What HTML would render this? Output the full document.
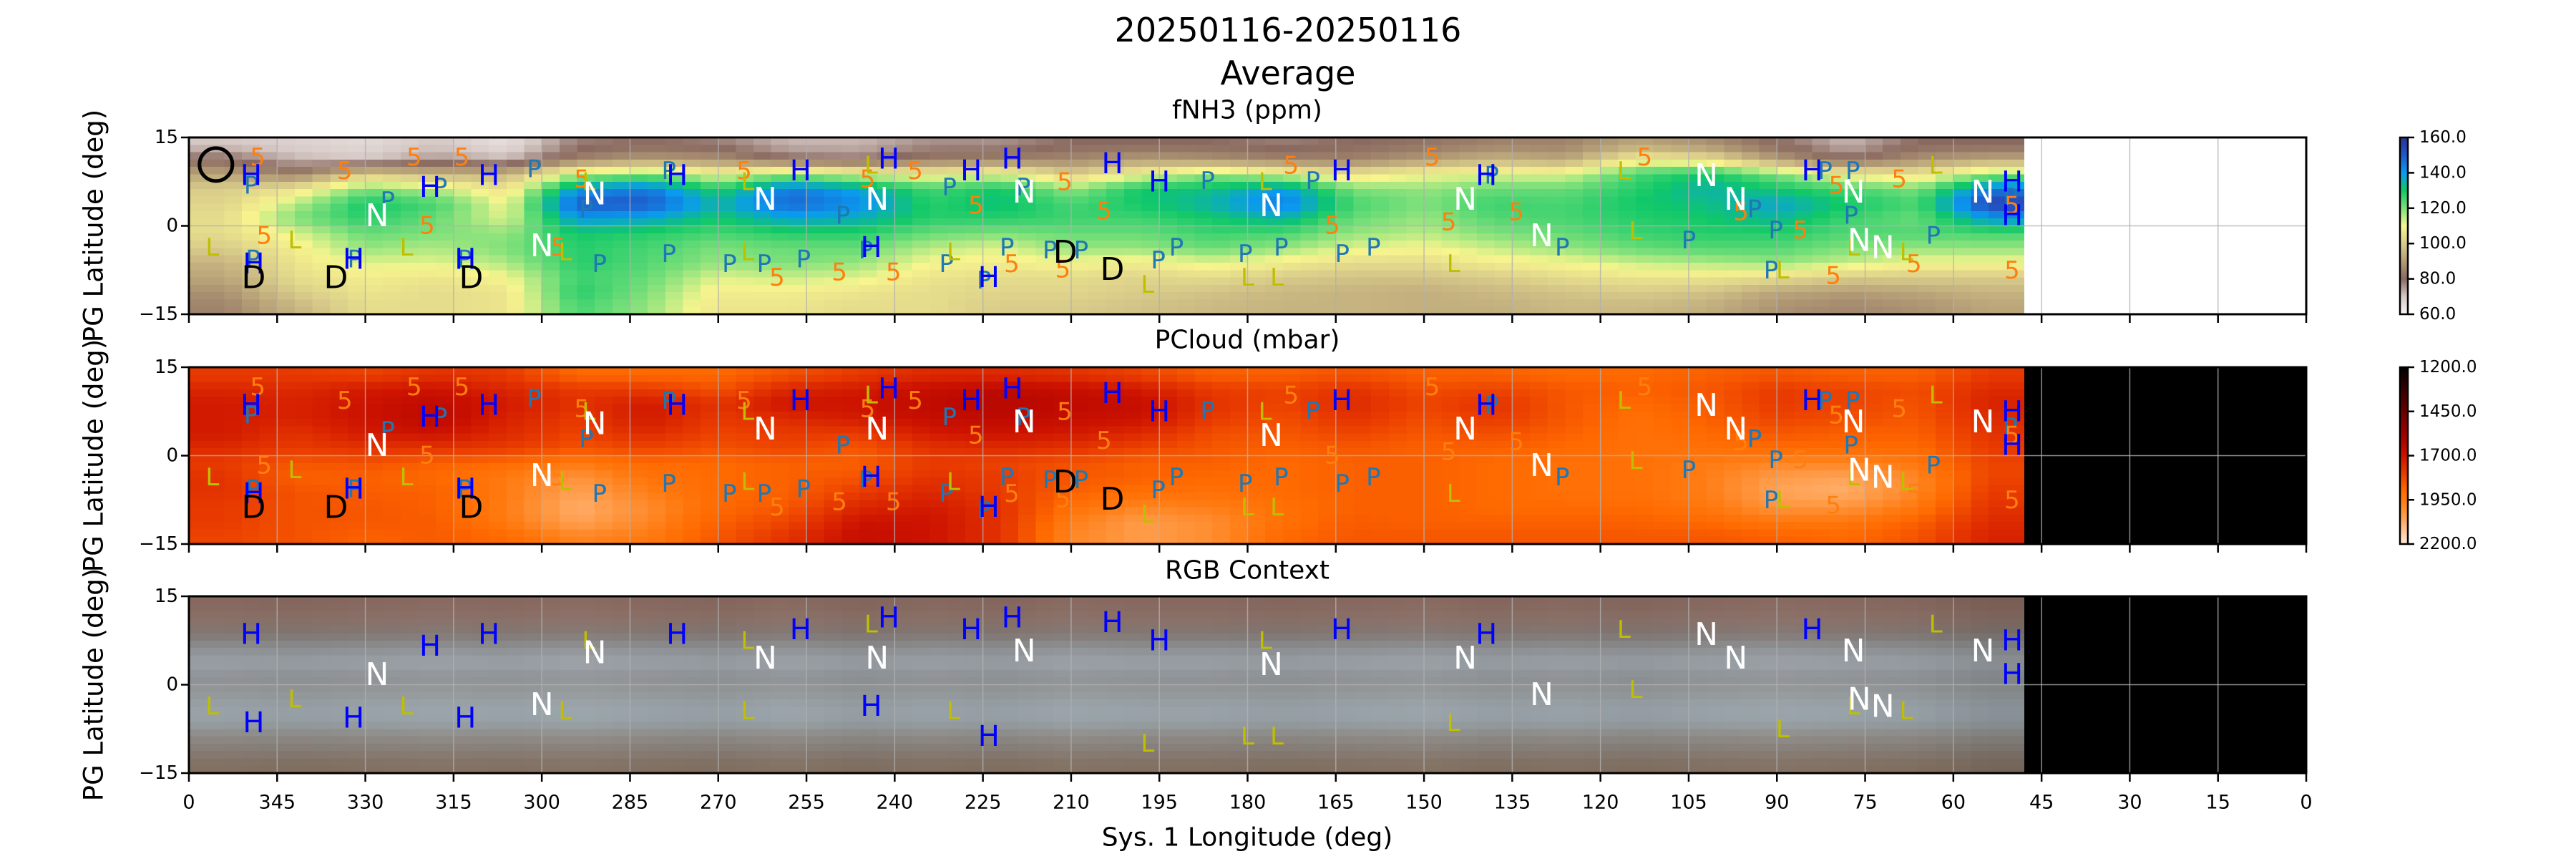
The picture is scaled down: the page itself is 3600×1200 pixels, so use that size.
<!DOCTYPE html>
<html><head><meta charset="utf-8"><style>
html,body{margin:0;padding:0;background:#fff;}
svg{display:block;font-family:"DejaVu Sans","Liberation Sans",sans-serif;}
</style></head><body>
<svg id="fig" width="3600" height="1200" viewBox="0 0 3600 1200" xmlns="http://www.w3.org/2000/svg">
<rect width="3600" height="1200" fill="#fff"/>
<defs>
<linearGradient id="gN" x1="0" y1="1" x2="0" y2="0">
<stop offset="0" stop-color="#f7f4f4"/><stop offset="0.1" stop-color="#d5c8c5"/><stop offset="0.2" stop-color="#8a6a60"/><stop offset="0.3" stop-color="#b39c76"/><stop offset="0.4" stop-color="#d9cc8a"/><stop offset="0.5" stop-color="#f8f58e"/><stop offset="0.6" stop-color="#7de07a"/><stop offset="0.7" stop-color="#10c868"/><stop offset="0.8" stop-color="#0a9af0"/><stop offset="0.9" stop-color="#2058c8"/><stop offset="1" stop-color="#2e3192"/>
</linearGradient>
<linearGradient id="gP" x1="0" y1="0" x2="0" y2="1">
<stop offset="0" stop-color="#000"/><stop offset="0.25" stop-color="#6a0000"/><stop offset="0.4" stop-color="#a80000"/><stop offset="0.5" stop-color="#cc1200"/><stop offset="0.6" stop-color="#e83a00"/><stop offset="0.7" stop-color="#ff6a00"/><stop offset="0.75" stop-color="#ff7a10"/><stop offset="0.85" stop-color="#ffa050"/><stop offset="1" stop-color="#ffeadc"/>
</linearGradient>
</defs>
<text x="1800" y="58" font-size="46" text-anchor="middle">20250116-20250116</text>
<text x="1800" y="118" font-size="46" text-anchor="middle">Average</text>
<g id="layer"></g>
</svg>
<script>
// ---------- data ----------
const lonCenters = [354,342,330,318,306,294,282,270,258,246,234,222,210,198,186,174,162,150,138,126,114,102,90,78,66,54];
const latCenters = [13.75,11.25,8.75,6.25,3.75,1.25,-1.25,-3.75,-6.25,-8.75,-11.25,-13.75];
const fnh3Values = [
[70,80,92,100,102,104,104,100,95,92,88,85],
[68,72,85,105,115,120,112,108,106,104,100,95],
[66,70,100,120,130,128,122,118,112,108,106,104],
[70,75,95,115,125,122,120,116,112,106,104,104],
[65,72,95,105,110,112,118,120,116,110,106,106],
[78,85,115,140,150,140,130,128,128,126,128,125],
[80,90,120,145,150,138,128,125,124,122,120,118],
[78,88,110,128,135,130,125,120,118,112,108,106],
[72,80,118,145,148,138,128,122,120,114,108,106],
[72,78,112,138,142,136,128,122,118,112,106,104],
[76,84,108,125,128,128,122,115,110,106,104,104],
[76,85,112,130,132,128,120,112,108,104,102,100],
[80,86,100,118,125,126,122,118,110,104,102,100],
[80,90,110,130,130,126,122,118,108,102,100,98],
[80,88,118,132,135,130,126,122,112,104,98,96],
[78,85,112,140,145,135,125,118,108,100,96,95],
[80,85,105,120,125,122,118,112,104,98,95,95],
[82,90,110,118,120,118,115,110,104,98,94,94],
[85,95,112,122,126,124,120,114,108,100,96,94],
[85,92,112,122,125,125,122,118,110,104,98,96],
[92,108,125,128,130,128,126,122,114,106,100,96],
[88,105,130,135,132,130,128,124,116,106,98,94],
[80,90,120,130,138,134,128,124,118,104,92,88],
[72,80,108,125,130,126,124,120,114,100,90,86],
[80,88,105,120,125,122,124,118,110,100,92,88],
[80,92,118,145,155,140,125,118,110,100,95,92]];
const pcloudValues = [
[1800,1750,1720,1720,1720,1760,1800,1780,1780,1800,1800,1820],
[1800,1760,1740,1740,1780,1800,1860,1880,1850,1850,1850,1850],
[1820,1720,1700,1700,1720,1780,1850,1880,1870,1860,1860,1880],
[1780,1700,1660,1650,1700,1780,1880,1900,1880,1880,1870,1870],
[1800,1750,1720,1740,1760,1800,1900,1950,1950,1960,1950,1900],
[1900,1800,1780,1800,1820,1850,1950,2020,2060,2080,2060,1980],
[1900,1800,1720,1720,1760,1820,1900,1930,1960,2000,1980,1950],
[1900,1850,1780,1800,1820,1850,1900,1900,1900,1900,1880,1860],
[1850,1750,1700,1760,1800,1820,1880,1880,1880,1860,1820,1780],
[1800,1720,1700,1720,1800,1860,1880,1850,1800,1750,1700,1680],
[1760,1680,1660,1680,1720,1780,1800,1780,1750,1720,1700,1700],
[1760,1660,1640,1660,1700,1760,1820,1800,1800,1780,1780,1780],
[1780,1680,1660,1680,1720,1780,1850,1860,1880,1920,1960,1980],
[1820,1720,1680,1700,1760,1820,1880,1880,1920,1980,2040,2040],
[1880,1800,1780,1800,1840,1860,1880,1900,1920,1960,2000,2000],
[1880,1820,1820,1840,1860,1880,1900,1900,1900,1920,1920,1900],
[1850,1780,1760,1780,1820,1860,1880,1880,1880,1880,1870,1860],
[1880,1840,1820,1840,1860,1880,1880,1880,1880,1880,1880,1860],
[1880,1820,1780,1800,1840,1880,1900,1900,1900,1900,1880,1860],
[1900,1860,1860,1860,1880,1900,1920,1920,1920,1900,1880,1860],
[1900,1880,1900,1920,1920,1920,1920,1920,1920,1900,1880,1860],
[1880,1860,1870,1880,1900,1920,1950,1960,1960,1940,1900,1860],
[1860,1800,1800,1820,1860,1900,1980,2040,2060,2020,1940,1880],
[1880,1820,1820,1840,1880,1900,1980,2060,2080,2020,1940,1900],
[1880,1840,1850,1860,1880,1900,1940,1980,1980,1940,1880,1850],
[1800,1760,1740,1760,1780,1800,1820,1820,1800,1780,1760,1740]];
const rgbRowColors = [[134,104,95],[138,112,103],[128,118,114],[141,143,146],[154,160,166],[142,146,150],[147,151,152],[152,162,168],[150,160,165],[141,138,134],[133,123,116],[130,112,98]];
const rgbColShade = [1.0,0.98,1.0,1.02,1.0,1.03,1.0,0.98,1.02,0.97,1.0,0.98,1.02,1.0,1.0,0.98,1.0,1.02,0.98,1.0,0.97,1.0,1.02,1.0,0.98,0.9];
const xTickLabels = [0,345,330,315,300,285,270,255,240,225,210,195,180,165,150,135,120,105,90,75,60,45,30,15,0];
const yTickValues = [15,0,-15];
const fnh3CbTicks = [60,80,100,120,140,160];
const pcloudCbTicks = [1200,1450,1700,1950,2200];
const hLon=[349.4,319,309,277,256,241,227,220,203,195,164,139.4,84,50,50,349,332,313,244,224];
const hLat=[8.5,6.5,8.5,8.5,9.3,11.3,9.3,11.3,10.5,7.4,9.3,8.5,9.3,7.4,1.7,-6.5,-5.7,-5.7,-3.7,-8.8];
const nLon=[328,300,291,262,243,218,176,143,130,102,97,77,76,72,55];
const nLat=[1.7,-3.4,5.4,4.5,4.5,5.7,3.4,4.5,-1.7,8.5,4.5,5.7,-2.5,-3.7,5.7];
const lLon=[356,342,323,296,292,265,265,244,230,197,180,175,177,145,116,114,89,77,68,63];
const lLat=[-3.7,-2.5,-3.7,-4.5,7.4,7.4,-4.5,10.2,-4.5,-10,-8.8,-8.8,7.4,-6.5,9.3,-0.9,-7.6,-3.7,-4.5,10.2];
const dLon=[349,335,312,211,203];
const dLat=[-8.8,-8.8,-8.8,-4.5,-7.4];
const pLon=[349.4,349.1,331.8,326.2,317.3,313.1,301.3,292.4,290.2,278.4,278.4,268.1,262.2,255.5,248.8,244.9,230.7,231.2,224.8,220.9,218.1,213.6,208.3,195.2,192.1,186.8,180.4,174.3,168.9,163.9,158.6,138.5,126.5,105,93.8,91,90.2,81.8,77.1,77.4,63.4,50.3];
const pLat=[6.8,-5.7,-5.7,4.2,6.5,-5.7,9.6,2.8,-6.5,9.3,-4.8,-6.5,-6.5,-5.7,1.7,-4.2,6.5,-6.5,-9.3,-3.7,6.5,-4.2,-4.2,-5.9,-3.7,7.6,-4.8,-3.7,7.6,-4.8,-3.7,8.5,-3.7,-2.5,2.8,-7.6,-0.8,9.3,9.3,1.7,-1.7,4.8];
const fLon=[348.3,333.5,347.2,321.7,313.6,319.5,293.2,297.2,265.6,244.6,236.5,260,249.4,240.2,226.2,220.1,211.1,204.4,211.4,172.6,165.6,148.6,145.8,134.3,112.5,96.1,86,80.4,69.2,66.7,50,50,79.9];
const fLat=[11.6,9.3,-1.7,11.6,11.6,0,7.9,-3.7,9.3,7.9,9.3,-8.8,-7.9,-7.9,3.4,-6.5,7.4,2.5,-7.4,10.2,0,11.6,0.6,2.3,11.6,2.3,-0.8,-8.5,7.9,-6.5,3.4,-7.6,6.8];

// ---------- layout ----------
const PX0=264, PX1=3223, PH=247, tops=[192,513,833];
const DATA_MIN_LON=48;
function xOf(lon){return PX0+(360-lon)/360*(PX1-PX0);}
function yOf(lat,top){return top+(15-lat)/30*PH;}
const NS="http://www.w3.org/2000/svg";
const layer=document.getElementById('layer');
function mk(tag,attrs,parent){const e=document.createElementNS(NS,tag);for(const k in attrs)e.setAttribute(k,attrs[k]);(parent||layer).appendChild(e);return e;}
function lerp(a,b,t){return a+(b-a)*t;}
function hex(c){return [parseInt(c.slice(1,3),16),parseInt(c.slice(3,5),16),parseInt(c.slice(5,7),16)];}
function cmap(stops,v){
  if(v<=stops[0][0])return hex(stops[0][1]);
  for(let i=1;i<stops.length;i++){if(v<=stops[i][0]){const t=(v-stops[i-1][0])/(stops[i][0]-stops[i-1][0]);const a=hex(stops[i-1][1]),b=hex(stops[i][1]);return [0,1,2].map(k=>Math.round(lerp(a[k],b[k],t)));}}
  return hex(stops[stops.length-1][1]);
}
const nStops=[[60,'#f7f4f4'],[70,'#d5c8c5'],[80,'#8a6a60'],[90,'#b39c76'],[100,'#d9cc8a'],[110,'#f8f58e'],[120,'#7de07a'],[130,'#10c868'],[140,'#0a9af0'],[150,'#2058c8'],[160,'#2e3192']];
function pColor(v){
  const s=[[1200,'#000000'],[1450,'#6a0000'],[1600,'#a80000'],[1700,'#cc1200'],[1800,'#e83a00'],[1900,'#ff6a00'],[1950,'#ff7a10'],[2050,'#ffa050'],[2200,'#ffeadc']];
  return cmap(s,v);
}
function sampleGrid(g,lon,lat){
  let c=(lonCenters[0]-lon)/12; c=Math.max(0,Math.min(lonCenters.length-1,c));
  let r=(latCenters[0]-lat)/2.5; r=Math.max(0,Math.min(latCenters.length-1,r));
  const c0=Math.floor(c),r0=Math.floor(r),c1=Math.min(c0+1,lonCenters.length-1),r1=Math.min(r0+1,latCenters.length-1);
  const tc=c-c0,tr=r-r0;
  if(Array.isArray(g[0][0])){
    return [0,1,2].map(k=>lerp(lerp(g[c0][r0][k],g[c1][r0][k],tc),lerp(g[c0][r1][k],g[c1][r1][k],tc),tr));
  }
  return lerp(lerp(g[c0][r0],g[c1][r0],tc),lerp(g[c0][r1],g[c1][r1],tc),tr);
}
const rgbGrid=lonCenters.map((_,ci)=>rgbRowColors.map(rc=>rc.map(v=>Math.min(255,v*rgbColShade[ci]))));

function drawPanel(pi,name,colorFn,grid,bg){
  const top=tops[pi];
  const g=mk('g',{});
  
  
  const bgR=mk('rect',{x:PX0,y:top,width:PX1-PX0,height:PH,fill:bg},g);
  
  
  const hm=mk('g',{'shape-rendering':'crispEdges'},g);
  
  
  const dLonStep=3,dLatStep=1.25;
  for(let lon=360;lon>DATA_MIN_LON+0.01;lon-=dLonStep){
    for(let lat=15;lat>-15+0.01;lat-=dLatStep){
      const v=sampleGrid(grid,lon-dLonStep/2,lat-dLatStep/2);
      const c=colorFn(v);
      const x=xOf(lon),y=yOf(lat,top);
      const cell=mk('rect',{x:x.toFixed(1),y:y.toFixed(1),width:(xOf(lon-dLonStep)-x+0.6).toFixed(1),height:(yOf(lat-dLatStep,top)-y+0.6).toFixed(1),fill:`rgb(${c.map(Math.round).join(',')})`},hm);
      
      
    }
  }
  for(let lon=345;lon>0;lon-=15){
    const ln=mk('line',{x1:xOf(lon),x2:xOf(lon),y1:top,y2:top+PH,stroke:'#b0b0b0','stroke-width':1.5,'stroke-opacity':0.8},g);
    
    
  }
  const hl=mk('line',{x1:PX0,x2:PX1,y1:yOf(0,top),y2:yOf(0,top),stroke:'#b0b0b0','stroke-width':1.5,'stroke-opacity':0.8},g);
  
  
  return g;
}
function textEl(str,attrs,name,parent){const t=mk('text',attrs,parent);t.textContent=str;return t;}

function drawMarkers(pi,g,full){
  const top=tops[pi];
  const sets=[
    {L:'P',c:'#1f77b4',s:34,lo:pLon,la:pLat,full:true},
    {L:'5',c:'#ff7f0e',s:34,lo:fLon,la:fLat,full:true},
    {L:'L',c:'#bfbf00',s:34,lo:lLon,la:lLat,full:false},
    {L:'H',c:'#0000ff',s:40,lo:hLon,la:hLat,full:false},
    {L:'D',c:'#000000',s:44,lo:dLon,la:dLat,full:true},
    {L:'N',c:'#ffffff',s:44,lo:nLon,la:nLat,full:false}];
  for(const st of sets){
    if(st.full&&!full)continue;
    for(let i=0;i<st.lo.length;i++){
      const t=mk('text',{x:xOf(st.lo[i]).toFixed(1),y:yOf(st.la[i],top).toFixed(1),fill:st.c,'font-size':st.s,'text-anchor':'middle','dominant-baseline':'central'},g);
      t.textContent=st.L;
      
      
    }
  }
}
function drawAxes(pi,g,showX){
  const top=tops[pi];
  const fr=mk('rect',{x:PX0,y:top,width:PX1-PX0,height:PH,fill:'none',stroke:'#000','stroke-width':3},g);
  
  
  for(const v of yTickValues){
    const y=yOf(v,top);
    const tk=mk('line',{x1:PX0-11,x2:PX0,y1:y,y2:y,stroke:'#000','stroke-width':2.5},g);
    
    
    textEl(v<0?'\u2212'+Math.abs(v):String(v),{x:PX0-15,y:y,'font-size':26,'text-anchor':'end','dominant-baseline':'central'},'y-tick-label',g);
  }
  xTickLabels.forEach((lab,i)=>{
    const lon=360-i*15;const x=xOf(lon);
    const tk=mk('line',{x1:x,x2:x,y1:top+PH,y2:top+PH+12,stroke:'#000','stroke-width':2.5},g);
    
    
    if(showX)textEl(String(lab),{x:x,y:top+PH+41,'font-size':27,'text-anchor':'middle','dominant-baseline':'central'},'x-tick-label',g);
  });
  textEl('PG Latitude (deg)',{x:0,y:0,'font-size':37,'text-anchor':'middle','dominant-baseline':'central',transform:`translate(131,${top+PH/2}) rotate(-90)`},'y-axis-title',g);
}
function colorbar(pi,grad,ticks,name,fmt){
  const top=tops[pi];const x0=3354,w=11;
  const g=mk('g',{});
  
  
  const r=mk('rect',{x:x0,y:top,width:w,height:PH,fill:`url(#${grad})`,stroke:'#000','stroke-width':2.5},g);
  
  
  const lo=ticks[0],hi=ticks[ticks.length-1];
  ticks.forEach(v=>{
    const y=fmt(v,lo,hi,top);
    const tk=mk('line',{x1:x0+w,x2:x0+w+9,y1:y,y2:y,stroke:'#000','stroke-width':2.5},g);
    
    
    textEl(v.toFixed(1),{x:x0+w+16,y:y,'font-size':23,'dominant-baseline':'central'},'colorbar-tick-label',g);
  });
}

let g1=drawPanel(0,'fnh3',v=>cmap(nStops,v),fnh3Values,'#ffffff');
drawMarkers(0,g1,true);
const ring=mk('circle',{cx:xOf(355.4),cy:yOf(10.4,tops[0]),r:23,fill:'none',stroke:'#000','stroke-width':5},g1);


drawAxes(0,g1,false);
textEl('fNH3 (ppm)',{x:1743,y:154,'font-size':36,'text-anchor':'middle','dominant-baseline':'central'},'fnh3-panel-title');
let g2=drawPanel(1,'pcloud',pColor,pcloudValues,'#000000');
drawMarkers(1,g2,true);
drawAxes(1,g2,false);
textEl('PCloud (mbar)',{x:1743,y:475,'font-size':36,'text-anchor':'middle','dominant-baseline':'central'},'pcloud-panel-title');
let g3=drawPanel(2,'rgb',c=>c,rgbGrid,'#000000');
drawMarkers(2,g3,false);
drawAxes(2,g3,true);
textEl('RGB Context',{x:1743,y:797,'font-size':36,'text-anchor':'middle','dominant-baseline':'central'},'rgb-panel-title');
textEl('Sys. 1 Longitude (deg)',{x:1743,y:1170,'font-size':36,'text-anchor':'middle','dominant-baseline':'central'},'x-axis-title');
colorbar(0,'gN',fnh3CbTicks,'fnh3-colorbar',(v,lo,hi,top)=>top+PH-(v-lo)/(hi-lo)*PH);
colorbar(1,'gP',pcloudCbTicks,'pcloud-colorbar',(v,lo,hi,top)=>top+(v-lo)/(hi-lo)*PH);
</script>
</body></html>
